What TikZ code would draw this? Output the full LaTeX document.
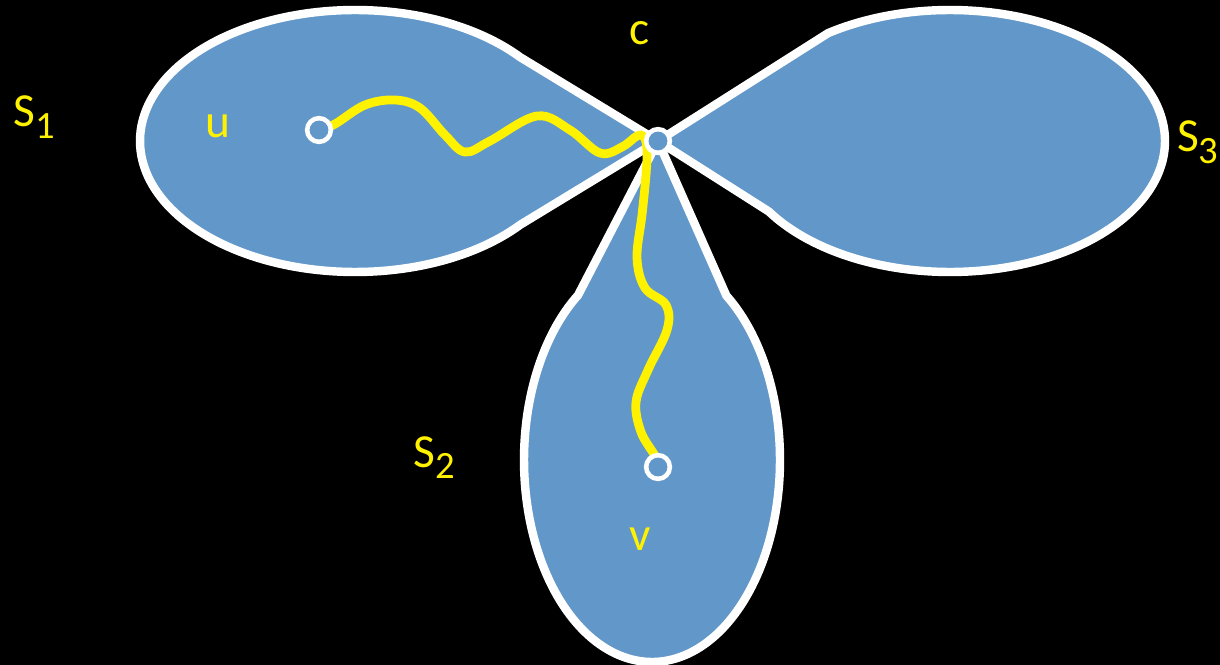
\documentclass[tikz,border=0pt]{standalone}
\usepackage{fontspec}
\setmainfont{Carlito}
\definecolor{lobe}{RGB}{98,151,201}
\newcommand\lobesub[1]{\raisebox{-6.8pt}{\fontsize{22}{22}\selectfont #1}}
\begin{document}
\begin{tikzpicture}[x=0.02cm,y=-0.02cm,
  lobeshape/.style={fill=lobe, draw=white, line width=4.8pt, line join=round},
  pathline/.style={draw=yellow, line width=5pt, line join=round},
  dot/.style={circle, draw=white, fill=lobe, line width=2.6pt, minimum size=13.5pt, inner sep=0pt},
  lab/.style={text=yellow, font=\fontsize{27}{27}\selectfont, inner sep=0pt}]
\useasboundingbox (0,0) rectangle (1220,665);
\fill[black] (0,0) rectangle (1220,665);
\coordinate (pu) at (319,130);
\coordinate (pc) at (658,141);
\coordinate (pv) at (658,467);
% lobes
\path[lobeshape] (pc) -- plot[domain=39.7:320.3, samples=150, variable=\t] ({355+215*cos(\t)},{141+131*sin(\t)}) -- cycle;
\path[lobeshape] (pc) -- plot[domain=235.5:507.4, samples=150, variable=\t] ({950+215*cos(\t)},{141+131*sin(\t)}) -- cycle;
\path[lobeshape] (pc) -- plot[domain=-54.5:234.7, samples=150, variable=\t] ({652+128*cos(\t)},{460+202*sin(\t)}) -- cycle;
% yellow path
\draw[pathline] plot[smooth, tension=0.6] coordinates {(pu) (335,124) (365,105) (395,100) (420,108) (445,135) (465,152) (490,141) (537,116) (570,130) (600,153) (622,147) (637,136) (644,137) (647,150) (646,175) (642,215) (637,258) (645,288) (666,305) (667,330) (648,370) (636,402) (641,432) (655,456) (pv)};
% vertices
\node[dot] (u) at (pu) {};
\node[dot] (c) at (pc) {};
\node[dot] (v) at (pv) {};
% labels
\node[lab, anchor=base west] (s1) at (13,127) {S\lobesub{1}};
\node[lab, anchor=base west] (s2) at (413,467) {S\lobesub{2}};
\node[lab, anchor=base west] (s3) at (1177,152) {S\kern-0.5pt\lobesub{3}};
\node[lab, anchor=base] (lu) at (218,138) {u};
\node[lab, anchor=base] (lc) at (640,45) {c};
\node[lab, anchor=base] (lv) at (640,550) {v};
\end{tikzpicture}
\end{document}
